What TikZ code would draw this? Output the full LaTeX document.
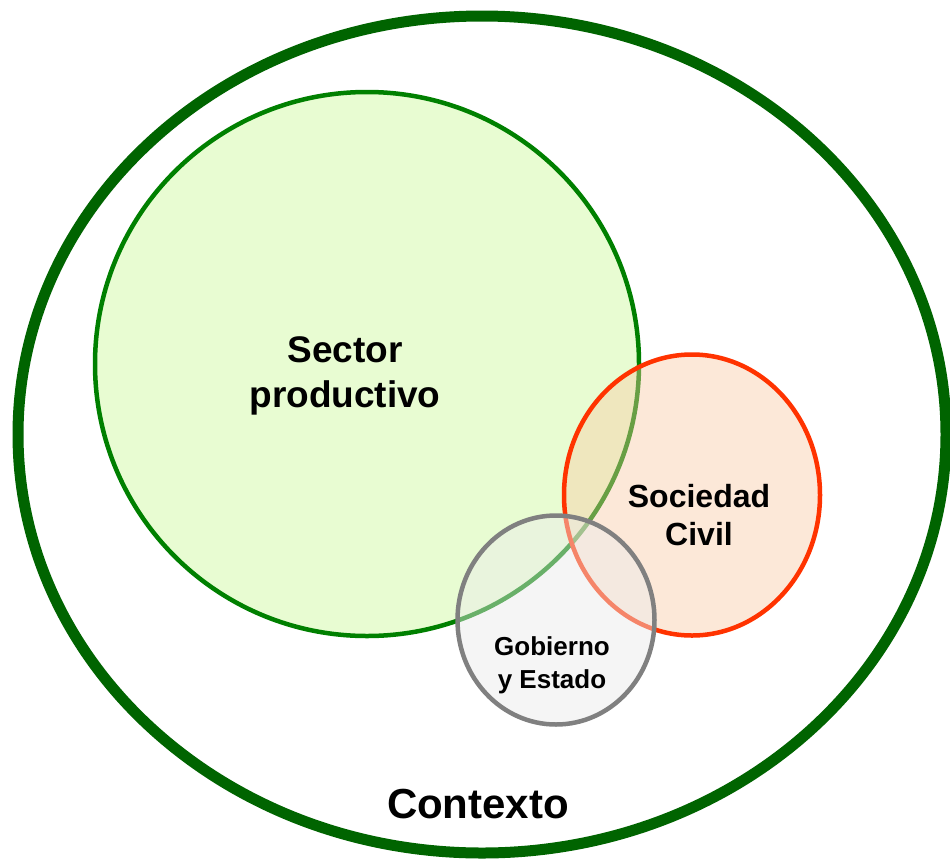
\documentclass[tikz,border=0pt]{standalone}
\usepackage{fontspec}
\setmainfont{Liberation Sans}
\usetikzlibrary{shapes.geometric}
\definecolor{ctxgreen}{RGB}{0,100,0}
\definecolor{spgreen}{RGB}{0,128,0}
\definecolor{spfill}{RGB}{232,252,210}
\definecolor{scred}{RGB}{255,51,0}
\definecolor{scfill}{RGB}{250,202,164}
\definecolor{gegray}{RGB}{128,128,128}
\definecolor{gefill}{RGB}{235,235,235}
\tikzset{
  blob/.style={ellipse, inner sep=0pt, outer sep=0pt},
  lbl/.style={align=center, font=\bfseries, text=black, inner sep=0pt}
}
\begin{document}
\begin{tikzpicture}[x=1pt,y=-1pt]
\useasboundingbox (0,0) rectangle (950,865);
\clip (0,0) rectangle (950,865);
\fill[white] (0,0) rectangle (950,865);
\node[blob, draw=ctxgreen, line width=11pt, minimum width=928pt, minimum height=837pt] (ctx) at (482,434.5) {};
\node[blob, draw=spgreen, fill=spfill, line width=4.5pt, minimum width=544pt, minimum height=544pt] (sp) at (367,364) {};
\node[blob, draw=scred, fill=scfill, fill opacity=0.42, draw opacity=1, line width=4.5pt, minimum width=256pt, minimum height=281pt] (sc) at (692,495) {};
\node[blob, draw=gegray, fill=gefill, fill opacity=0.45, draw opacity=1, line width=4.5pt, minimum width=197pt, minimum height=209pt] (ge) at (556,620) {};
\node[lbl, font=\bfseries\fontsize{37}{45}\selectfont] (tsp) at (345,376) {Sector\\productivo};
\node[lbl, font=\bfseries\fontsize{32}{38}\selectfont] (tsc) at (699,515) {Sociedad\\Civil};
\node[lbl, font=\bfseries\fontsize{26}{33}\selectfont] (tge) at (552,665) {Gobierno\\y Estado};
\node[lbl, font=\bfseries\fontsize{42}{50}\selectfont] (tctx) at (478,804) {Contexto};
\end{tikzpicture}
\end{document}
